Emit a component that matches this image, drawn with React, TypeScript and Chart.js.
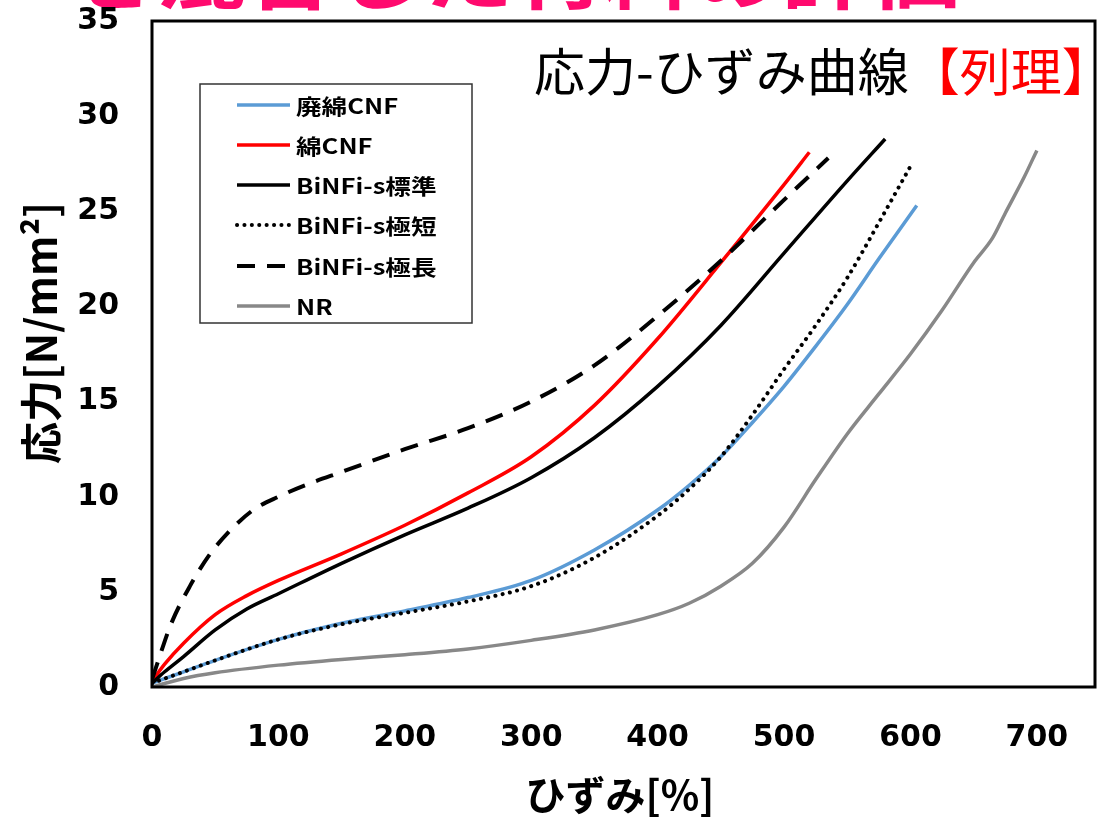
import React, { useEffect, useRef } from "react";
import { Chart, registerables } from "chart.js";

Chart.register(...registerables);

// ---- data (strain %, stress N/mm²) ----
const seriesNames = ["廃綿CNF", "綿CNF", "BiNFi-s標準", "BiNFi-s極短", "BiNFi-s極長", "NR"];

const strainWaste = [0, 25, 50, 100, 150, 200, 250, 300, 350, 400, 425, 450, 475, 500, 525, 550, 575, 605];
const stressWaste = [0.2, 0.8, 1.4, 2.5, 3.35, 4.0, 4.7, 5.6, 7.2, 9.3, 10.6, 12.1, 13.9, 15.8, 17.9, 20.1, 22.5, 25.3];

const strainCotton = [0, 10, 25, 50, 75, 100, 150, 200, 250, 300, 350, 400, 450, 500, 520];
const stressCotton = [0.3, 1.2, 2.3, 3.8, 4.8, 5.6, 7.0, 8.5, 10.2, 12.1, 14.8, 18.3, 22.3, 26.4, 28.1];

const strainStd = [0, 10, 25, 50, 75, 100, 150, 200, 250, 300, 350, 400, 450, 500, 550, 580];
const stressStd = [0.2, 0.8, 1.6, 3.0, 4.1, 4.9, 6.5, 8.0, 9.4, 11.0, 13.1, 15.8, 19.0, 22.8, 26.6, 28.8];

const strainShort = [0, 25, 50, 100, 150, 200, 250, 300, 350, 400, 425, 450, 475, 500, 525, 550, 575, 602];
const stressShort = [0.2, 0.8, 1.4, 2.5, 3.3, 3.9, 4.5, 5.3, 6.8, 9.0, 10.4, 12.1, 14.3, 16.7, 19.0, 21.5, 24.4, 27.6];

const strainLong = [0, 5, 15, 30, 45, 60, 80, 100, 125, 150, 200, 250, 300, 350, 400, 450, 500, 535];
const stressLong = [0.4, 1.4, 3.3, 5.3, 6.9, 8.1, 9.3, 10.0, 10.7, 11.3, 12.5, 13.6, 15.0, 16.9, 19.5, 22.4, 25.6, 27.8];

const strainNR = [0, 25, 50, 100, 150, 200, 250, 300, 350, 400, 425, 450, 475, 500, 525, 550, 575, 600, 625, 650, 665, 675, 690, 700];
const stressNR = [0, 0.45, 0.75, 1.15, 1.45, 1.7, 2.0, 2.45, 3.0, 3.8, 4.4, 5.3, 6.5, 8.4, 10.9, 13.3, 15.4, 17.5, 19.8, 22.3, 23.6, 24.9, 26.8, 28.2];

const xTicks = [0, 100, 200, 300, 400, 500, 600, 700];
const yTicks = [0, 5, 10, 15, 20, 25, 30, 35];

const headerText = "を混合した材料の評価";
const plotTitleMain = "応力-ひずみ曲線";
const plotTitleSub = "【列理】";
const xTitle = "ひずみ[%]";
const yTitle = "応力[N/mm²]";

const pts = (xs: number[], ys: number[]) => xs.map((x, i) => ({ x, y: ys[i] }));

const CJK = "'Noto Sans CJK JP', 'Noto Sans', sans-serif";

const overlayPlugin = {
  id: "overlay",
  afterDatasetsDraw(chart: any) {
    const { ctx, chartArea: a } = chart;
    ctx.save();
    // plot frame
    ctx.strokeStyle = "#000";
    ctx.lineWidth = 3;
    ctx.strokeRect(a.left, a.top, a.right - a.left, a.bottom - a.top);

    // in-plot title
    ctx.font = `51px ${CJK}`;
    ctx.textBaseline = "middle";
    ctx.textAlign = "left";
    const tx = 534;
    const ty = 72;
    ctx.fillStyle = "#000";
    ctx.fillText(plotTitleMain, tx, ty);
    const w1 = ctx.measureText(plotTitleMain).width;
    ctx.fillStyle = "#FF0000";
    ctx.fillText(plotTitleSub, tx + w1, ty);

    // legend
    const lx = 200, ly = 84, lw = 272, lh = 239;
    ctx.fillStyle = "#fff";
    ctx.fillRect(lx, ly, lw, lh);
    ctx.strokeStyle = "#333";
    ctx.lineWidth = 1.5;
    ctx.strokeRect(lx, ly, lw, lh);
    const rowY = [105, 145, 185, 225, 266, 306];
    chart.data.datasets.forEach((ds: any, i: number) => {
      const y = rowY[i];
      ctx.save();
      ctx.strokeStyle = ds.borderColor;
      ctx.lineWidth = ds.borderWidth;
      ctx.lineCap = ds.borderCapStyle || "butt";
      ctx.setLineDash(ds.borderDash || []);
      ctx.beginPath();
      ctx.moveTo(237, y);
      ctx.lineTo(290, y);
      ctx.stroke();
      ctx.restore();
      ctx.save();
      ctx.translate(296, y);
      ctx.scale(1.22, 1);
      ctx.font = `bold 21px ${CJK}`;
      ctx.fillStyle = "#000";
      ctx.textBaseline = "middle";
      ctx.textAlign = "left";
      ctx.fillText(ds.label, 0, 1);
      ctx.restore();
    });

    // axis titles
    ctx.fillStyle = "#000";
    ctx.textAlign = "center";
    ctx.textBaseline = "middle";
    ctx.font = `bold 40px ${CJK}`;
    ctx.fillText(xTitle, 620, 795);
    ctx.save();
    ctx.translate(41, 333);
    ctx.rotate(-Math.PI / 2);
    ctx.font = `bold 42px ${CJK}`;
    ctx.fillText(yTitle, 0, 0);
    ctx.restore();

    ctx.restore();
  },
};

export default function App() {
  const ref = useRef<HTMLCanvasElement | null>(null);

  useEffect(() => {
    if (!ref.current) return;
    const common = { pointRadius: 0, fill: false, cubicInterpolationMode: "monotone" as const, borderWidth: 3.5 };
    const chart = new Chart(ref.current, {
      type: "line",
      data: {
        datasets: [
          { ...common, label: seriesNames[0], data: pts(strainWaste, stressWaste), borderColor: "#5B9BD5", order: 4 },
          { ...common, label: seriesNames[1], data: pts(strainCotton, stressCotton), borderColor: "#FF0000", order: 3 },
          { ...common, label: seriesNames[2], data: pts(strainStd, stressStd), borderColor: "#000000", order: 2 },
          { ...common, label: seriesNames[3], data: pts(strainShort, stressShort), borderColor: "#000000", borderWidth: 4, borderDash: [0.1, 7.3], borderCapStyle: "round", order: 0 },
          { ...common, label: seriesNames[4], data: pts(strainLong, stressLong), borderColor: "#000000", borderWidth: 4, borderDash: [18, 12], order: 1 },
          { ...common, label: seriesNames[5], data: pts(strainNR, stressNR), borderColor: "#888888", order: 5 },
        ] as any,
      },
      options: {
        responsive: false,
        animation: false,
        layout: { padding: { top: 21, right: 7, left: 0, bottom: 0 } },
        plugins: { legend: { display: false }, tooltip: { enabled: false }, title: { display: false } },
        scales: {
          x: {
            type: "linear",
            min: 0,
            max: 746,
            grid: { display: false, drawTicks: false },
            border: { display: false },
            afterFit: (s: any) => { s.height = 131; s.paddingLeft = 0; s.paddingRight = 0; },
            afterBuildTicks: (s: any) => { s.ticks = xTicks.map((v) => ({ value: v })); },
            ticks: {
              autoSkip: false,
              maxRotation: 0,
              padding: 33,
              color: "#000",
              font: { family: "'DejaVu Sans'", size: 30, weight: "bold" },
            },
          },
          y: {
            type: "linear",
            min: 0,
            max: 35,
            grid: { display: false, drawTicks: false },
            border: { display: false },
            afterFit: (s: any) => { s.width = 152; s.paddingTop = 0; s.paddingBottom = 0; },
            afterBuildTicks: (s: any) => { s.ticks = yTicks.map((v) => ({ value: v })); },
            ticks: {
              padding: 33,
              color: "#000",
              font: { family: "'DejaVu Sans'", size: 30, weight: "bold" },
            },
          },
        },
      },
      plugins: [overlayPlugin],
    });
    return () => chart.destroy();
  }, []);

  return (
    <div style={{ position: "fixed", left: 0, top: 0, width: 1102, height: 818, overflow: "hidden", background: "#fff" }}>
      <div
        style={{
          position: "absolute",
          left: 67,
          top: -64,
          fontFamily: CJK,
          fontWeight: "bold",
          fontSize: 72,
          lineHeight: "72px",
          color: "#FF0A6E",
          whiteSpace: "nowrap",
          transform: "scaleX(1.24)",
          transformOrigin: "left top",
        }}
      >
        {headerText}
      </div>
      <canvas ref={ref} width={1102} height={818} style={{ position: "absolute", left: 0, top: 0 }} />
    </div>
  );
}
